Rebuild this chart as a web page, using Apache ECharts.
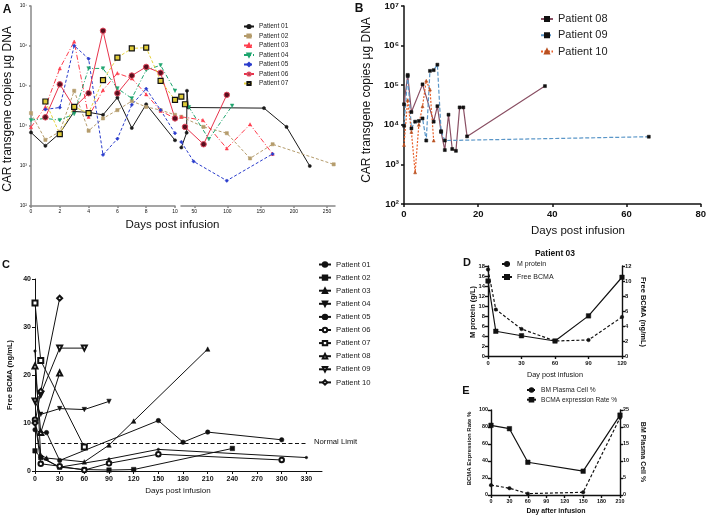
<!DOCTYPE html>
<html><head><meta charset="utf-8">
<script src="https://cdn.jsdelivr.net/npm/echarts@6/dist/echarts.min.js"></script>
<style>html,body{margin:0;padding:0;background:#fff}#c{width:709px;height:516px}</style>
</head><body><div id="c"></div>
<script>
// ---------- Panel A: CAR transgene copies (early days 0-10 / late days) ----------
const a01Early = [[0,6900],[1,3200],[2,6600],[3,23000],[4,22000],[5,19000],[6,51000],[7,8900],[8,35000],[10,4400]];
const a01Late  = [[30.5,2900],[38.5,6800],[39,76000],[41,29000],[155,28000],[189,9500],[224,1000]];
const a02Early = [[0,21000],[1,4500],[2,7200],[3,76000],[4,7600],[5,15500],[6,25000],[7,42000],[8,30000],[9,25000],[10,19000]];
const a02Late  = [[30.5,17000],[64,9500],[99,6600],[134,1550],[168,3500],[260,1100]];
const a03Early = [[0,9300],[1,30000],[2,275000],[3,1290000],[4,17000],[5,79000],[6,209000],[7,155000],[8,62000],[9,24000],[10,15500]];
const a03Late  = [[30.5,17000],[63,14000],[99,2750],[134,11000],[168,2000]];
const a04Early = [[0,14000],[1,15500],[2,14000],[3,20000],[4,275000],[5,275000],[6,87000],[7,49000],[8,250000],[9,330000],[10,76000]];
const a04Late  = [[42,29500],[72,4700],[107,32000]];
const a05Early = [[1,26000],[2,29000],[3,1020000],[4,480000],[5,1900],[6,4800],[7,34000],[8,85000],[9,25000],[10,6600]];
const a05Late  = [[30.5,4000],[49,1300],[99,430],[168,2000]];
const a06Early = [[1,16500],[2,110000],[3,29000],[4,66000],[5,2400000],[6,66000],[7,182000],[8,300000],[9,214000],[10,15500]];
const a06Late  = [[36,9500],[64,3500],[99,60000]];
const a07Early = [[1,41000],[2,6300],[3,30000],[4,21000],[5,141000],[6,510000],[7,870000],[8,910000],[9,135000],[10,45000]];
const a07Late  = [[30.5,54000],[36,35000]];
const aLateTicks = [50,100,150,200,250];

// ---------- Panel B ----------
const b08 = [[0,33000],[1,182000],[2,21000],[5,105000],[8,12000],[9,29500],[10,6600],[11,2300],[12,18000],[13,2450],[14,2200],[15,27500],[16,27500],[17,5100],[38,95000]];
const b09 = [[0,9500],[1,170000],[2,8100],[3,12000],[4,12500],[5,14500],[6,4000],[7,230000],[8,240000],[9,330000],[10,6900],[11,4000],[66,5000]];
const b10 = [[0,3100],[1,42000],[2,6600],[3,630],[4,10000],[5,29500],[6,130000],[7,78000],[8,4000]];

// ---------- Panel C: Free BCMA ----------
const c01 = [[0,8.6],[7,8],[14,8],[30,2.2],[150,10.5],[180,6],[210,8.1],[300,6.5]];
const c02 = [[0,4.2],[7,2.8],[30,0.8],[60,0.3],[90,0.2],[120,0.3],[240,4.7]];
const c03 = [[0,10.5],[7,3.3],[14,2.7],[60,1.9],[90,5.4],[120,10.4],[210,25.4]];
const c04 = [[0,14.6],[7,11.8],[30,13],[60,12.8],[90,14.5]];
const c05 = [[0,25],[7,3],[30,0.8],[90,2.5],[150,4.5],[330,2.8]];
const c06 = [[0,10.7],[7,1.5],[30,1],[60,0.2],[90,1.6],[150,3.5],[300,2.3]];
const c07 = [[0,35],[7,23],[60,5]];
const c08 = [[0,21.9],[7,8],[30,20.4]];
const c09 = [[0,14.6],[7,16],[30,25.6],[60,25.6]];
const c10 = [[0,10],[7,16.6],[30,36]];
const cTicks = [0,30,60,90,120,150,180,210,240,270,300,330];
const normalLimit = 5.7;

// ---------- Panel D: Patient 03 ----------
const dDays = [0,7,30,60,90,120];
const dMProtein = [17.3,9.3,5.4,3.0,3.2,7.8];
const dFreeBcma = [10,3.3,2.7,2.0,5.35,10.5];

// ---------- Panel E ----------
const eDays = [0,30,60,150,210];
const eBcmaRate = [82,78,38.5,28,94];
const ePlasma = [2.9,2.0,0.4,0.8,22.7];

const FONT = 'Liberation Sans, Arial, sans-serif';
const SUP = ['⁰','¹','²','³','⁴','⁵','⁶','⁷','⁸','⁹'];
const logFmt = v => '10' + SUP[Math.round(Math.log10(v))];
const pairs = (xs, ys) => xs.map((x, i) => [x, ys[i]]);

function ax(o) {
  const col = o.color || '#111';
  return Object.assign({
    type: 'value',
    axisLine: {show: true, onZero: false, lineStyle: {color: col, width: o.lw || 1.2}},
    axisTick: {show: true, length: o.tl || 3, lineStyle: {color: col, width: o.lw || 1.2}},
    splitLine: {show: false},
    axisLabel: {fontFamily: FONT, fontSize: o.fs || 7, fontWeight: o.fw || 'normal', color: '#111', margin: o.m || 4}
  }, o.extra || {});
}

function ser(name, data, xi, yi, st) {
  return {
    type: 'line', name, data, xAxisIndex: xi, yAxisIndex: yi,
    showSymbol: true, symbol: st.symbol || 'circle', symbolSize: st.size || 4,
    symbolRotate: st.rot || 0,
    lineStyle: {color: st.lc || st.c, width: st.w || 1, type: st.type || 'solid'},
    itemStyle: {color: st.c, borderColor: st.bc || st.c, borderWidth: st.bw || 0.5},
    emphasis: {disabled: true}, animation: false, z: st.z || 2
  };
}

const styA = {
  '01': {c: '#1a1a1a', symbol: 'circle', size: 3.2},
  '02': {c: '#b59c6c', symbol: 'rect', size: 3.2, type: [3,2]},
  '03': {c: '#ff3d4d', symbol: 'triangle', size: 3.2, type: [5,2,1,2]},
  '04': {c: '#1ea56e', symbol: 'triangle', rot: 180, size: 3.5, type: [4,2,1,2]},
  '05': {c: '#2a3ccc', symbol: 'diamond', size: 3.5, type: [3,2]},
  '06': {c: '#5a0f1e', lc: '#e8344c', bc: '#e04a60', bw: 1, symbol: 'circle', size: 5.5},
  '07': {c: '#e0cc38', lc: '#e6d23c', bc: '#111', bw: 1.2, symbol: 'rect', size: 5, type: [3,2]}
};
const aEarly = {'01': a01Early, '02': a02Early, '03': a03Early, '04': a04Early, '05': a05Early, '06': a06Early, '07': a07Early};
const aLate  = {'01': a01Late, '02': a02Late, '03': a03Late, '04': a04Late, '05': a05Late, '06': a06Late, '07': a07Late};

const series = [];
Object.keys(styA).forEach(k => {
  series.push(ser('A Patient ' + k, aEarly[k], 0, 0, styA[k]));
  series.push(ser('A Patient ' + k, aLate[k], 1, 1, styA[k]));
});
series.push(ser('B Patient 08', b08, 2, 2, {c: '#111', lc: '#8a5064', symbol: 'rect', size: 3, w: 1.2}));
series.push(ser('B Patient 09', b09, 2, 2, {c: '#111', lc: '#5a96c8', symbol: 'rect', size: 3, type: [4,2], w: 1.2}));
series.push(ser('B Patient 10', b10, 2, 2, {c: '#b85020', lc: '#e8602a', symbol: 'triangle', size: 3, type: [2,1.5], w: 1.2}));

const K = '#111';
const cSty = [
  ['01', c01, {symbol: 'circle', size: 4.5}],
  ['02', c02, {symbol: 'rect', size: 4.5}],
  ['03', c03, {symbol: 'triangle', size: 4.5}],
  ['04', c04, {symbol: 'triangle', rot: 180, size: 4.5}],
  ['05', c05, {symbol: 'circle', size: 2.5}],
  ['06', c06, {symbol: 'emptyCircle', size: 4.5}],
  ['07', c07, {symbol: 'emptyRect', size: 5}],
  ['08', c08, {symbol: 'emptyTriangle', size: 5}],
  ['09', c09, {symbol: 'emptyTriangle', rot: 180, size: 5}],
  ['10', c10, {symbol: 'emptyDiamond', size: 5}]
];
cSty.forEach(([k, d, s]) => series.push(ser('C Patient ' + k, d, 3, 3, Object.assign({c: K, w: 1}, s))));
// normal limit
series.push({type: 'line', name: 'limit', data: [], xAxisIndex: 3, yAxisIndex: 3, animation: false,
  markLine: {silent: true, symbol: 'none', label: {show: false},
    lineStyle: {color: '#111', type: [4,2.5], width: 1},
    data: [[{coord: [0, normalLimit]}, {coord: [332, normalLimit]}]]}});

series.push(ser('M protein', pairs(dDays, dMProtein), 4, 4, {c: K, symbol: 'circle', size: 3.5, type: [3,2], w: 1.2}));
series.push(ser('Free BCMA', pairs(dDays, dFreeBcma), 4, 5, {c: K, symbol: 'rect', size: 4.5, w: 1.2}));
series.push(ser('BM Plasma Cell %', pairs(eDays, ePlasma), 5, 7, {c: K, symbol: 'circle', size: 3.5, type: [3,2], w: 1.2}));
series.push(ser('BCMA expression Rate %', pairs(eDays, eBcmaRate), 5, 6, {c: K, symbol: 'rect', size: 4.5, w: 1.2}));

const strip = n => n.replace(/^[ABC] /, '');
function leg(names, left, top, iw, ih, fs, lh, gap) {
  return {data: names, orient: 'vertical', left, top, itemWidth: iw, itemHeight: ih, itemGap: gap,
    padding: 0, selectedMode: false, formatter: strip,
    textStyle: {fontFamily: FONT, fontSize: fs, lineHeight: lh, color: '#222', padding: 0}};
}

function txt(x, y, s, size, o) {
  o = o || {};
  return {type: 'text', x, y, rotation: o.rot || 0, silent: true,
    style: {text: s, fontFamily: FONT, fontSize: size, fontWeight: o.fw || 'normal', fill: '#111',
      align: o.align || 'center', verticalAlign: 'middle'}};
}

const gA = '#888';
const option = {
  backgroundColor: '#fff',
  animation: false,
  grid: [
    {left: 31, top: 6, width: 144, height: 200},
    {left: 181, top: 6, width: 154, height: 200},
    {left: 404, top: 6, width: 299, height: 198},
    {left: 35, top: 279, width: 287, height: 192},
    {left: 488, top: 266, width: 134, height: 90},
    {left: 491, top: 410, width: 129, height: 85}
  ],
  xAxis: [
    ax({color: gA, lw: 1.5, fs: 5, tl: 2, m: 3, extra: {gridIndex: 0, min: 0, max: 10, interval: 2}}),
    ax({color: gA, lw: 1.5, fs: 5, tl: 2, m: 3, extra: {gridIndex: 1, min: 30, max: 262}}),
    ax({lw: 1.5, fs: 9.5, fw: 'bold', m: 5, extra: {gridIndex: 2, min: 0, max: 80, interval: 20}}),
    ax({lw: 1, fs: 7, fw: 'bold', m: 5, extra: {gridIndex: 3, min: 0, max: 349}}),
    ax({lw: 1.4, fs: 5.8, fw: 'bold', m: 4, extra: {gridIndex: 4, min: 0, max: 120, interval: 30}}),
    ax({lw: 1.4, fs: 5.4, fw: 'bold', m: 4, extra: {gridIndex: 5, min: 0, max: 210, interval: 30}})
  ],
  yAxis: [
    ax({color: gA, lw: 1.5, fs: 5, tl: 2, m: 4, extra: {gridIndex: 0, type: 'log', logBase: 10, min: 100, max: 1e7}}),
    {gridIndex: 1, type: 'log', logBase: 10, min: 100, max: 1e7, show: false},
    ax({lw: 1.5, fs: 9.5, fw: 'bold', m: 5, extra: {gridIndex: 2, type: 'log', logBase: 10, min: 100, max: 1e7}}),
    ax({lw: 1, fs: 7, fw: 'bold', m: 4, extra: {gridIndex: 3, min: 0, max: 40, interval: 10}}),
    ax({lw: 1.4, fs: 5.8, fw: 'bold', m: 3, extra: {gridIndex: 4, min: 0, max: 18, interval: 2}}),
    ax({lw: 1.4, fs: 5.8, fw: 'bold', m: 3, extra: {gridIndex: 4, position: 'right', min: 0, max: 12, interval: 2}}),
    ax({lw: 1.4, fs: 5.4, fw: 'bold', m: 3, extra: {gridIndex: 5, min: 0, max: 100, interval: 20}}),
    ax({lw: 1.4, fs: 5.4, fw: 'bold', m: 3, extra: {gridIndex: 5, position: 'right', min: 0, max: 25, interval: 5}})
  ],
  legend: [
    leg(['A Patient 01','A Patient 02','A Patient 03','A Patient 04','A Patient 05','A Patient 06','A Patient 07'], 243, 23, 10, 4, 6.5, 7, 2.5),
    leg(['B Patient 08','B Patient 09','B Patient 10'], 540, 13, 12, 5, 11, 12, 4.3),
    leg(cSty.map(s => 'C Patient ' + s[0]), 318, 260, 12, 5.5, 7.7, 9, 4.1),
    leg(['M protein','Free BCMA'], 501, 260, 10, 5, 7, 8, 5),
    leg(['BM Plasma Cell %','BCMA expression Rate %'], 526, 386.5, 9, 4.5, 6.6, 7, 2.7)
  ],
  series,
  graphic: [
    txt(7, 10, 'A', 12, {fw: 'bold'}),
    txt(359, 9, 'B', 12, {fw: 'bold'}),
    txt(6, 265, 'C', 11, {fw: 'bold'}),
    txt(467, 263, 'D', 11, {fw: 'bold'}),
    txt(466, 391, 'E', 11, {fw: 'bold'}),
    txt(8, 109, 'CAR transgene copies µg DNA', 12, {rot: Math.PI / 2}),
    txt(172.5, 225, 'Days post infusion', 11.5),
    txt(367, 100, 'CAR transgene copies µg DNA', 12, {rot: Math.PI / 2}),
    txt(578, 231, 'Days post infusion', 11.5),
    txt(9.5, 375, 'Free BCMA (ng/mL)', 7.5, {fw: 'bold', rot: Math.PI / 2}),
    txt(178, 491, 'Days post infusion', 8),
    txt(314, 442, 'Normal Limit', 7.7, {align: 'left'}),
    txt(555, 254, 'Patient 03', 8.5, {fw: 'bold'}),
    txt(555, 375, 'Day post infusion', 7.3),
    txt(473, 312, 'M protein (g/L)', 7.5, {fw: 'bold', rot: Math.PI / 2}),
    txt(643, 312, 'Free BCMA (ng/mL)', 7.5, {fw: 'bold', rot: -Math.PI / 2}),
    txt(556, 511.5, 'Day after infusion', 7, {fw: 'bold'}),
    txt(469.5, 448.5, 'BCMA Expression Rate %', 6, {fw: 'bold', rot: Math.PI / 2}),
    txt(643, 452, 'BM Plasma Cell %', 7, {fw: 'bold', rot: -Math.PI / 2})
  ]
};
option.yAxis[0].axisLabel.formatter = logFmt;
option.yAxis[2].axisLabel.formatter = logFmt;
option.xAxis[1].axisLabel.customValues = aLateTicks;
option.xAxis[1].axisTick.customValues = aLateTicks;
option.xAxis[3].axisLabel.customValues = cTicks;
option.xAxis[3].axisTick.customValues = cTicks;

const chart = echarts.init(document.getElementById('c'), null, {renderer: 'canvas'});
chart.setOption(option);
</script></body></html>
